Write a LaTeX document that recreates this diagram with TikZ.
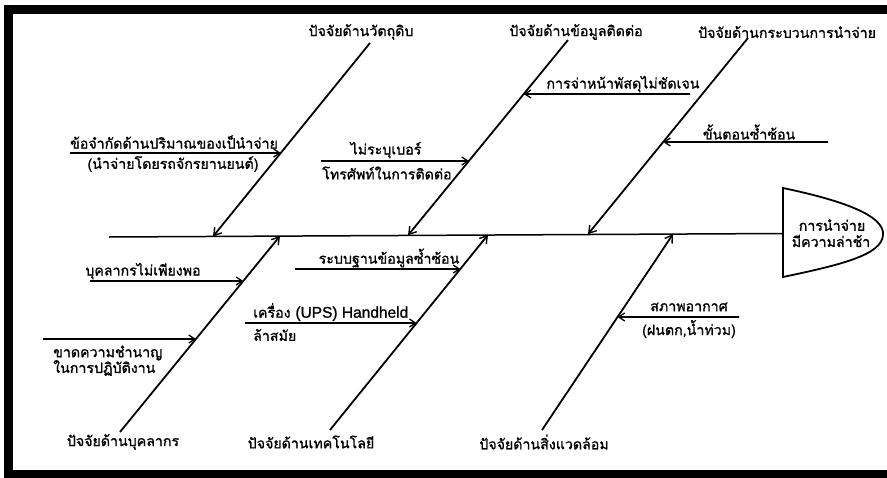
\documentclass[tikz,border=0pt]{standalone}
\usepackage{fontspec}
\setmainfont{Liberation Sans}
\newfontfamily\thaifont[Script=Thai,FakeBold=1.2]{Loma}
\newfontfamily\latinfont[FakeBold=1.2]{Liberation Sans}
\usetikzlibrary{arrows.meta}

\begin{document}
\begin{tikzpicture}[x=1pt,y=-1pt,
  bone/.style={line width=1.8pt,-{Straight Barb[length=7pt,width=9pt,line width=1.4pt]}},
  cause/.style={line width=1.6pt,-{Straight Barb[length=6pt,width=8pt,line width=1.3pt]}},
  lbl/.style={font=\thaifont\fontsize{14.2}{16}\selectfont,inner sep=0pt},
  spine/.style={line width=1.5pt}]
\useasboundingbox (0,0) rectangle (887,477);
\clip (0,0) rectangle (887,477);
\fill[white] (0,0) rectangle (887,477);
% outer frame
\draw[line width=9pt] (8.5,9.5) rectangle (895,474.5);

% fish head
\draw[line width=1.8pt,fill=white] (783,188) .. controls (840,200) and (885,215) .. (883,235)
  .. controls (882,255) and (840,265) .. (783,277) -- cycle;
\coordinate (head) at (783,233.5);
\node[lbl] (h1) at (832,225) {การนำจ่าย};
\node[lbl] (h2) at (831,241) {มีความล่าช้า};

% spine
\coordinate (tail) at (109,237);
\draw[spine] (tail) -- (head);

% bone end points
\coordinate (b1s) at (370,43);  \coordinate (b1e) at (213,236.5);
\coordinate (b2s) at (568,40);  \coordinate (b2e) at (408,235.3);
\coordinate (b3s) at (748,38);  \coordinate (b3e) at (588,234.2);
\coordinate (b4s) at (120,432); \coordinate (b4e) at (280,236);
\coordinate (b5s) at (330,430); \coordinate (b5e) at (488,234.8);
\coordinate (b6s) at (542,430); \coordinate (b6e) at (673,234.1);
\foreach \i in {1,...,6} \draw[bone] (b\i s) -- (b\i e);

% category labels
\node[lbl] (c1) at (361,32) {ปัจจัยด้านวัตถุดิบ};
\node[lbl] (c2) at (576,32) {ปัจจัยด้านข้อมูลติดต่อ};
\node[lbl] (c3) at (787,32) {ปัจจัยด้านกระบวนการนำจ่าย};
\node[lbl] (c4) at (123,442) {ปัจจัยด้านบุคลากร};
\node[lbl] (c5) at (311,442) {ปัจจัยด้านเทคโนโลยี};
\node[lbl] (c6) at (544,442) {ปัจจัยด้านสิ่งแวดล้อม};

% causes on the upper bones
\coordinate (aS) at (70,153);
\coordinate (aT) at (intersection of b1s--b1e and 0,153--900,153);
\draw[cause] (aS) -- (aT);
\node[lbl] (a1) at (174,142) {ข้อจำกัดด้านปริมาณของเป็นำจ่าย};
\node[lbl] (a2) at (173,164) {(นำจ่ายโดยรถจักรยานยนต์)};

\coordinate (bS) at (321,161);
\coordinate (bT) at (intersection of b2s--b2e and 0,161--900,161);
\draw[cause] (bS) -- (bT);
\node[lbl] (bl1) at (386,150) {ไม่ระบุเบอร์};
\node[lbl] (bl2) at (387,173) {โทรศัพท์ในการติดต่อ};

\coordinate (cS) at (690,94);
\coordinate (cT) at (intersection of b2s--b2e and 0,94--900,94);
\draw[cause] (cS) -- (cT);
\node[lbl] (cl1) at (623,84) {การจ่าหน้าพัสดุไม่ชัดเจน};

\coordinate (dS) at (828,142);
\coordinate (dT) at (intersection of b3s--b3e and 0,142--900,142);
\draw[cause] (dS) -- (dT);
\node[lbl] (dl1) at (749,132) {ขั้นตอนซ้ำซ้อน};

% causes on the lower bones
\coordinate (eS) at (90,281);
\coordinate (eT) at (intersection of b4s--b4e and 0,281--900,281);
\draw[cause] (eS) -- (eT);
\node[lbl] (el1) at (143,271) {บุคลากรไม่เพียงพอ};

\coordinate (fS) at (43,339);
\coordinate (fT) at (intersection of b4s--b4e and 0,339--900,339);
\draw[cause] (fS) -- (fT);
\node[lbl,anchor=west] (fl1) at (53,353) {ขาดความชำนาญ};
\node[lbl,anchor=west] (fl2) at (53,368) {ในการปฏิบัติงาน};

\coordinate (gS) at (295,269);
\coordinate (gT) at (intersection of b5s--b5e and 0,269--900,269);
\draw[cause] (gS) -- (gT);
\node[lbl] (gl1) at (389,258) {ระบบฐานข้อมูลซ้ำซ้อน};

\coordinate (hS) at (245,323);
\coordinate (hT) at (intersection of b5s--b5e and 0,323--900,323);
\draw[cause] (hS) -- (hT);
\node[lbl,anchor=west] (hl1) at (253,312) {เครื่อง {\latinfont\fontsize{15.5}{17}\selectfont (UPS) Handheld}};
\node[lbl,anchor=west] (hl2) at (253,335) {ล้าสมัย};

\coordinate (iS) at (739,317);
\coordinate (iT) at (intersection of b6s--b6e and 0,317--900,317);
\draw[cause] (iS) -- (iT);
\node[lbl] (il1) at (689,307) {สภาพอากาศ};
\node[lbl] (il2) at (689,329) {(ฝนตก,น้ำท่วม)};
\end{tikzpicture}
\end{document}
